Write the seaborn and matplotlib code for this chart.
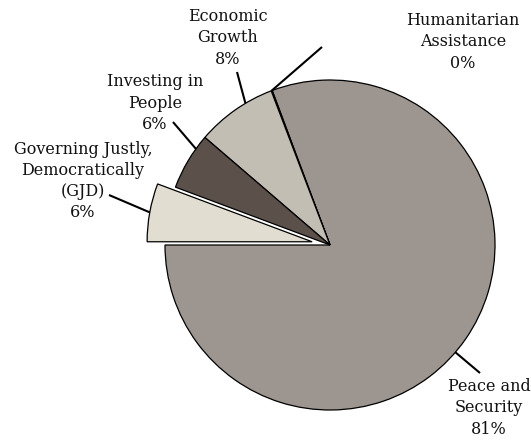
import numpy as np
import matplotlib
matplotlib.use("Agg")
import matplotlib.pyplot as plt
import seaborn as sns

# Funding shares by program area (percent)
categories = ["Peace and\nSecurity", "Humanitarian\nAssistance", "Economic\nGrowth",
              "Investing in\nPeople", "Governing Justly,\nDemocratically\n(GJD)"]
shares = [80.7, 0.1, 7.9, 5.6, 5.7]
explode_frac = [0, 0, 0, 0, 0.11]
colors = ["#9d958f", "#9d958f", "#c3beb3", "#5b504a", "#e1ded1"]

# label anchor (text centre), leader-line outer end (pixels) and where along
# each wedge's arc the leader line touches (0 = first edge, 1 = second edge)
label_pos = [(489, 408), (463, 42), (228, 38), (155, 103), (83, 181)]
leader_end = [(480, 373), (322, 47), (237, 72), (173, 122), (109, 195)]
leader_frac = [0.48, 0.5, 0.35, 0.25, 0.5]

sns.set_theme(style="white")
plt.rcParams["font.family"] = ["DejaVu Serif"]

W, H = 531, 441
fig = plt.figure(figsize=(W / 100, H / 100), dpi=100)
ax = fig.add_axes([0, 0, 1, 1])

cx, cy, R = 330, H - 245, 165
wedges, _ = ax.pie(shares, explode=[e * R for e in explode_frac], colors=colors,
                   startangle=180, counterclock=True, radius=R, center=(cx, cy),
                   wedgeprops=dict(edgecolor="black", linewidth=0.9))

for w, cat, v, (tx, ty), (lx, ly), f in zip(wedges, categories, shares,
                                            label_pos, leader_end, leader_frac):
    ang = np.deg2rad(w.theta1 + f * (w.theta2 - w.theta1))
    wx, wy = w.center
    sx, sy = wx + R * np.cos(ang), wy + R * np.sin(ang)
    ax.plot([sx, lx], [sy, H - ly], color="black", lw=1.5, solid_capstyle="butt")
    ax.text(tx, H - ty, f"{cat}\n{v:.0f}%", ha="center", va="center",
            fontsize=11.5, linespacing=1.33, color="#111111")

ax.set_xlim(0, W)
ax.set_ylim(0, H)
ax.set_aspect("auto")
ax.axis("off")
fig.savefig("out.png", dpi=100, facecolor="white")
